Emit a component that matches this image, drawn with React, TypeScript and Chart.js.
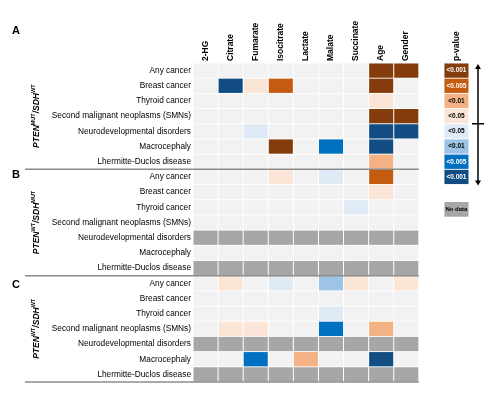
import React, { useEffect, useRef } from "react";
import { Chart, registerables } from "chart.js";

Chart.register(...registerables);

const FONT = '"Liberation Sans", Arial, Helvetica, sans-serif';

// Column headers (metabolites and covariates)
const columns = ["2-HG", "Citrate", "Fumarate", "Isocitrate", "Lactate", "Malate", "Succinate", "Age", "Gender"];
const legendHeader = "p-value";
const axisLabels = [...columns, "", legendHeader];

// Outcomes (rows of each panel)
const outcomes = [
  "Any cancer",
  "Breast cancer",
  "Thyroid cancer",
  "Second malignant neoplasms (SMNs)",
  "Neurodevelopmental disorders",
  "Macrocephaly",
  "Lhermitte-Duclos disease",
];

const panelLetters = ["A", "B", "C"];
const ptenStatus = ["MUT", "WT", "WT"];
const sdhStatus = ["WT", "MUT", "WT"];

// Levels: +4 <0.001, +3 <0.005, +2 <0.01, +1 <0.05 (orange); negative = blue; 0 = n.s.; null = no data
const ND = null;
const panelA: (number | null)[][] = [
  [0, 0, 0, 0, 0, 0, 0, 4, 4],
  [0, -4, 1, 3, 0, 0, 0, 4, 0],
  [0, 0, 0, 0, 0, 0, 0, 1, 0],
  [0, 0, 0, 0, 0, 0, 0, 4, 4],
  [0, 0, -1, 0, 0, 0, 0, -4, -4],
  [0, 0, 0, 4, 0, -3, 0, -4, 0],
  [0, 0, 0, 0, 0, 0, 0, 2, 0],
];
const panelB: (number | null)[][] = [
  [0, 0, 0, 1, 0, -1, 0, 3, 0],
  [0, 0, 0, 0, 0, 0, 0, 1, 0],
  [0, 0, 0, 0, 0, 0, -1, 0, 0],
  [0, 0, 0, 0, 0, 0, 0, 0, 0],
  [ND, ND, ND, ND, ND, ND, ND, ND, ND],
  [0, 0, 0, 0, 0, 0, 0, 0, 0],
  [ND, ND, ND, ND, ND, ND, ND, ND, ND],
];
const panelC: (number | null)[][] = [
  [0, 1, 0, -1, 0, -2, 1, 0, 1],
  [0, 0, 0, 0, 0, 0, 0, 0, 0],
  [0, 0, 0, 0, 0, -1, 0, 0, 0],
  [0, 1, 1, 0, 0, -3, 0, 2, 0],
  [ND, ND, ND, ND, ND, ND, ND, ND, ND],
  [0, 0, -3, 0, 2, 0, 0, -4, 0],
  [ND, ND, ND, ND, ND, ND, ND, ND, ND],
];
const panels = [panelA, panelB, panelC];

// Legend
const legendLevels = [4, 3, 2, 1, -1, -2, -3, -4];
const legendLabels = ["<0.001", "<0.005", "<0.01", "<0.05", "<0.05", "<0.01", "<0.005", "<0.001"];
const noDataLabel = "No data";

const levelColors: Record<string, string> = {
  "4": "#843c0c",
  "3": "#c55a11",
  "2": "#f4b183",
  "1": "#fbe5d6",
  "0": "#f2f2f2",
  "-1": "#deebf7",
  "-2": "#9dc3e6",
  "-3": "#0070c0",
  "-4": "#114d83",
};
const NO_DATA_COLOR = "#a6a6a6";
const colorFor = (v: number | null) => (v === null ? NO_DATA_COLOR : levelColors[String(v)]);
const textColorFor = (v: number) => (Math.abs(v) >= 3 ? "#ffffff" : "#000000");

const ROWS = outcomes.length;
const TOTAL_ROWS = ROWS * panels.length;
const GAP = 0.03;
const LEGEND_COL = axisLabels.length - 1;
const NO_DATA_POS = 9.15;

const overlayPlugin = {
  id: "overlay",
  afterDraw(chart: any) {
    const { ctx, scales } = chart;
    const x = scales.x;
    const y = scales.y;
    const colW = x.getPixelForValue(1) - x.getPixelForValue(0);
    const gridRight = x.getPixelForValue(columns.length - 1) + colW / 2;
    ctx.save();

    // panel separators
    ctx.strokeStyle = "#8c8c8c";
    ctx.lineWidth = 1.5;
    for (let p = 1; p <= panels.length; p++) {
      const py = y.getPixelForValue(p * ROWS);
      ctx.beginPath();
      ctx.moveTo(25, py);
      ctx.lineTo(gridRight, py);
      ctx.stroke();
    }

    // panel letters
    ctx.fillStyle = "#000";
    ctx.font = `bold 11px ${FONT}`;
    ctx.textAlign = "left";
    ctx.textBaseline = "middle";
    const letterY = [y.getPixelForValue(0) - 32, y.getPixelForValue(ROWS) + 6, y.getPixelForValue(2 * ROWS) + 9];
    panelLetters.forEach((L, i) => ctx.fillText(L, 12, letterY[i]));

    // genotype labels (rotated)
    panels.forEach((_, p) => {
      const cy = (y.getPixelForValue(p * ROWS) + y.getPixelForValue((p + 1) * ROWS)) / 2;
      const parts: [string, boolean][] = [
        ["PTEN", false],
        [ptenStatus[p], true],
        ["/SDH", false],
        [sdhStatus[p], true],
      ];
      const fontFor = (sup: boolean) => (sup ? `bold 5.5px ${FONT}` : `italic bold 8.5px ${FONT}`);
      let total = 0;
      parts.forEach(([t, s]) => {
        ctx.font = fontFor(s);
        total += ctx.measureText(t).width;
      });
      ctx.save();
      ctx.translate(37, cy);
      ctx.rotate(-Math.PI / 2);
      ctx.textAlign = "left";
      ctx.textBaseline = "middle";
      let px = -total / 2;
      parts.forEach(([t, s]) => {
        ctx.font = fontFor(s);
        ctx.fillText(t, px, s ? -3.5 : 0);
        px += ctx.measureText(t).width;
      });
      ctx.restore();
    });

    // legend texts
    const lx = x.getPixelForValue(LEGEND_COL);
    ctx.textAlign = "center";
    ctx.textBaseline = "middle";
    ctx.font = `bold 6.5px ${FONT}`;
    legendLabels.forEach((lab, i) => {
      ctx.fillStyle = textColorFor(legendLevels[i]);
      ctx.fillText(lab, lx, y.getPixelForValue(i + 0.5));
    });
    ctx.fillStyle = "#000";
    ctx.font = `bold 6px ${FONT}`;
    ctx.fillText(noDataLabel, lx, y.getPixelForValue(NO_DATA_POS + 0.5 - GAP / 2));

    // double arrow
    const ax = lx + colW / 2 + 9;
    const top = y.getPixelForValue(0) + 1;
    const bot = y.getPixelForValue(legendLevels.length) + 1;
    const mid = y.getPixelForValue(legendLevels.length / 2);
    ctx.strokeStyle = "#000";
    ctx.fillStyle = "#000";
    ctx.lineWidth = 1.5;
    ctx.beginPath();
    ctx.moveTo(ax, top + 3);
    ctx.lineTo(ax, bot - 3);
    ctx.moveTo(ax - 6, mid);
    ctx.lineTo(ax + 6, mid);
    ctx.stroke();
    ctx.beginPath();
    ctx.moveTo(ax, top);
    ctx.lineTo(ax - 3, top + 5);
    ctx.lineTo(ax + 3, top + 5);
    ctx.closePath();
    ctx.fill();
    ctx.beginPath();
    ctx.moveTo(ax, bot);
    ctx.lineTo(ax - 3, bot - 5);
    ctx.lineTo(ax + 3, bot - 5);
    ctx.closePath();
    ctx.fill();

    ctx.restore();
  },
};

export default function App() {
  const ref = useRef<HTMLCanvasElement | null>(null);
  useEffect(() => {
    if (!ref.current) return;
    const datasets: any[] = [];
    panels.forEach((panel, p) => {
      panel.forEach((row, r) => {
        const idx = p * ROWS + r;
        datasets.push({
          label: `${panelLetters[p]} ${outcomes[r]}`,
          data: axisLabels.map((_, c) => (c < columns.length ? [idx + GAP, idx + 1 - GAP] : null)),
          backgroundColor: axisLabels.map((_, c) => (c < columns.length ? colorFor(row[c]) : "transparent")),
        });
      });
    });
    legendLevels.forEach((lv, i) => {
      datasets.push({
        label: `legend ${legendLabels[i]}`,
        data: axisLabels.map((_, c) => (c === LEGEND_COL ? [i + GAP, i + 1 - GAP] : null)),
        backgroundColor: colorFor(lv),
      });
    });
    datasets.push({
      label: noDataLabel,
      data: axisLabels.map((_, c) => (c === LEGEND_COL ? [NO_DATA_POS, NO_DATA_POS + 1 - GAP] : null)),
      backgroundColor: NO_DATA_COLOR,
    });

    const rowTicks = Array.from({ length: TOTAL_ROWS }, (_, i) => ({ value: i + 0.5 }));

    const chart = new Chart(ref.current, {
      type: "bar",
      data: { labels: axisLabels, datasets },
      options: {
        responsive: false,
        maintainAspectRatio: false,
        animation: false,
        layout: { padding: { top: 0, right: 22, bottom: 14, left: 0 } },
        plugins: { legend: { display: false }, tooltip: { enabled: false } },
        datasets: {
          bar: { grouped: false, categoryPercentage: 1, barPercentage: 0.96, borderWidth: 0 },
        } as any,
        scales: {
          x: {
            type: "category",
            position: "top",
            offset: true,
            grid: { display: false, drawTicks: false },
            border: { display: false },
            ticks: {
              autoSkip: false,
              minRotation: 90,
              maxRotation: 90,
              padding: 2,
              labelOffset: 10,
              color: "#000",
              font: { family: FONT, size: 8.5, weight: "bold" },
            },
            afterFit: (s: any) => {
              s.height = 63;
            },
          } as any,
          y: {
            type: "linear",
            reverse: true,
            min: 0,
            max: TOTAL_ROWS,
            grid: { display: false, drawTicks: false },
            border: { display: false },
            afterBuildTicks: (s: any) => {
              s.ticks = rowTicks.map((t) => ({ ...t }));
            },
            ticks: {
              autoSkip: false,
              padding: 2,
              color: "#000",
              font: { family: FONT, size: 8.3 },
              callback: (_v: any, i: number) => outcomes[i % ROWS],
            },
            afterFit: (s: any) => {
              s.width = 193;
            },
          } as any,
        },
      },
      plugins: [overlayPlugin],
    });
    return () => chart.destroy();
  }, []);

  return (
    <div style={{ position: "fixed", left: 0, top: 0, width: 491, height: 396, background: "#fff" }}>
      <canvas ref={ref} width={491} height={396} style={{ width: 491, height: 396, display: "block" }} />
    </div>
  );
}
